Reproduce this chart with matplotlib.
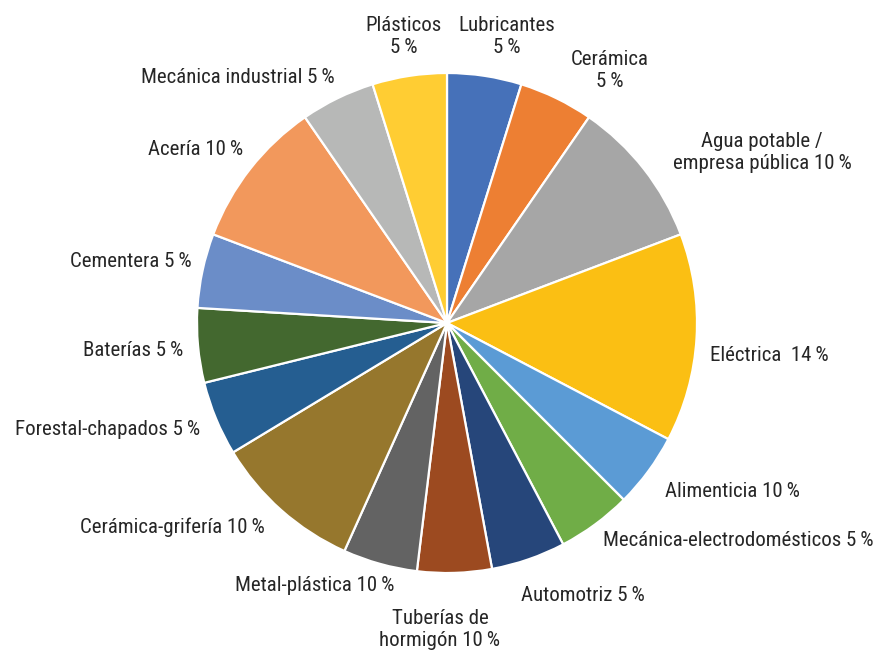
import matplotlib
matplotlib.use("Agg")
import matplotlib.pyplot as plt
from matplotlib import font_manager

# ---- data ----
categories = ["Lubricantes", "Cerámica", "Agua potable /\nempresa pública", "Eléctrica ",
              "Alimenticia", "Mecánica-electrodomésticos", "Automotriz", "Tuberías de\nhormigón",
              "Metal-plástica", "Cerámica-grifería", "Forestal-chapados", "Baterías",
              "Cementera", "Acería", "Mecánica industrial", "Plásticos"]
values = [5, 5, 10, 14, 5, 5, 5, 5, 5, 10, 5, 5, 5, 10, 5, 5]
label_pcts = [5, 5, 10, 14, 10, 5, 5, 10, 10, 10, 5, 5, 5, 10, 5, 5]
colors = ["#4671B9", "#ED7F33", "#A6A6A6", "#FBBF13", "#5B9BD5", "#70AD47", "#26467A",
          "#9C4A20", "#636363", "#96772D", "#255E91", "#43682F", "#6B8DC8", "#F2985C",
          "#B7B8B7", "#FFCD33"]

# ---- layout (pixel positions of labels, separator between name and pct, alignment) ----
cx, cy, R = 447, 323, 250
label_layout = [
    (507, 37, "\n", "center"),
    (610, 71, "\n", "center"),
    (762, 153, " ", "center"),
    (710, 356, " ", "left"),
    (665, 492, " ", "left"),
    (603, 541, " ", "left"),
    (521, 596, " ", "left"),
    (440, 630, " ", "center"),
    (394, 586, " ", "right"),
    (265, 527, " ", "right"),
    (200, 430, " ", "right"),
    (183, 351, " ", "right"),
    (192, 262, " ", "right"),
    (243, 150, " ", "right"),
    (335, 78, " ", "right"),
    (404, 37, "\n", "center"),
]

names = {f.name for f in font_manager.fontManager.ttflist}
fam = [f for f in ["Liberation Sans Narrow", "Roboto Condensed", "Liberation Sans", "DejaVu Sans"] if f in names]

W, H = 878, 656
fig = plt.figure(figsize=(W / 100, H / 100), dpi=100)
ax = fig.add_axes([0, 0, 1, 1])

ax.pie(values, colors=colors, startangle=90, counterclock=False, radius=R,
       wedgeprops=dict(edgecolor="white", linewidth=1.6))
ax.set_xlim(-cx, W - cx)
ax.set_ylim(-(H - cy), cy)
ax.set_aspect("equal")
ax.axis("off")

for cat, pct, (px, py, sep, ha) in zip(categories, label_pcts, label_layout):
    txt = f"{cat}{sep}{pct}\u2009%"
    ax.text(px - cx, cy - py, txt, ha=ha, va="center", multialignment="center",
            fontsize=15, color="#262626", family=fam, linespacing=1.2)

fig.savefig("out.png", dpi=100)
